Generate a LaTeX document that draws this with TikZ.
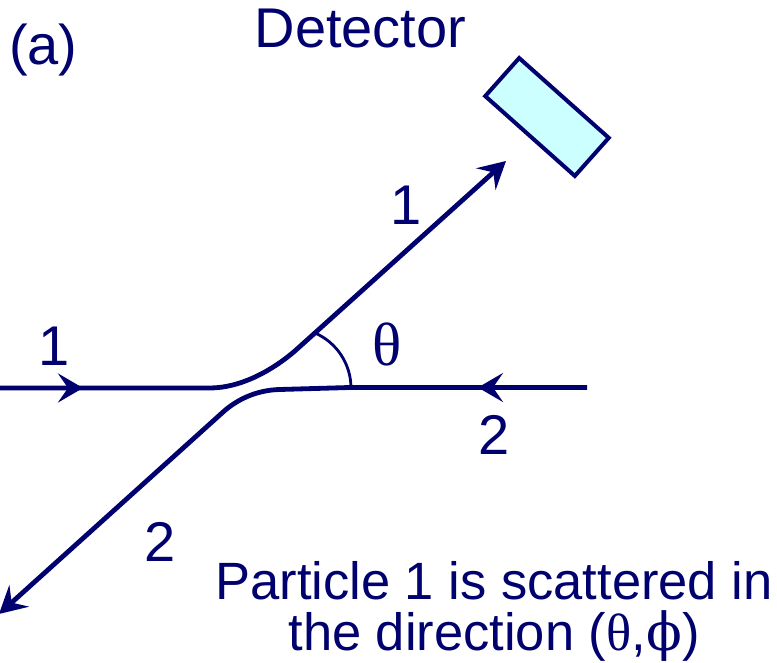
\documentclass[tikz,border=0pt]{standalone}
\usepackage{fontspec}
\setmainfont{Liberation Sans}
\newfontfamily\grk{Liberation Serif}
\newfontfamily\grkb{DejaVu Serif}
\usetikzlibrary{arrows.meta}
\definecolor{navy}{RGB}{0,0,110}
\definecolor{detfill}{RGB}{204,255,255}
\begin{document}
\begin{tikzpicture}[x=1pt,y=1pt,
  lbl/.style={inner sep=0pt, anchor=base, text=navy, font=\fontsize{56}{60}\selectfont},
  ray/.style={draw=navy, line width=4.8pt},
  tipend/.style={-{Stealth[length=27pt,width=29pt,inset=10pt]}},
  midtip/.style={draw=navy, fill=navy, line width=4.8pt, -{Stealth[length=25pt,width=29pt,inset=10pt]}},
  angarc/.style={draw=navy, line width=2.8pt},
  detbox/.style={draw=navy, fill=detfill, line width=4pt, rotate=-41.7, minimum width=120pt, minimum height=51pt, inner sep=0pt}]
\useasboundingbox (0,0) rectangle (777,663);
% particle 1
\coordinate (L1s) at (0,275);
\coordinate (L1a) at (83,275);
\coordinate (L1b) at (210,275);
\coordinate (L1c) at (296,313);
\coordinate (L1e) at (506,502);
% particle 2
\coordinate (L2s) at (587,275.5);
\coordinate (L2a) at (478,275.5);
\coordinate (L2b) at (350,275.5);
\coordinate (L2m) at (280,273.5);
\coordinate (L2c) at (222,250);
\coordinate (L2e) at (-1,49);
% angle arc
\coordinate (arcS) at (315,330);

\draw[ray, tipend] (L1s) -- (L1b) .. controls (240,275) and (272,292) .. (L1c) -- (L1e);
\draw[midtip] (L1s) -- (L1a);
\draw[ray, tipend] (L2s) -- (L2b) -- (L2m) .. controls (256,273) and (236,263) .. (L2c) -- (L2e);
\draw[midtip] (L2s) -- (L2a);
\draw[angarc] (arcS) arc[start angle=66.4, end angle=0, radius=60];

\node[detbox] (det) at (547,546) {};

\node[lbl, anchor=base west] (lbla) at (9,598) {(a)};
\node[lbl] (dettxt) at (360.5,615) {Detector};
\node[lbl] (n1in) at (54,297) {1};
\node[lbl] (n1out) at (406,438) {1};
\node[lbl, font=\fontsize{61}{64}\selectfont] (th) at (387,297) {\grk θ};
\node[lbl] (n2r) at (494,208) {2};
\node[lbl] (n2l) at (160,101) {2};
\node[lbl, anchor=north, align=center, font=\fontsize{52.5}{51}\selectfont] (cap) at (494,102)
  {Particle 1 is scattered in\\the direction ({\grk θ},{\grkb ϕ})};
\end{tikzpicture}
\end{document}
